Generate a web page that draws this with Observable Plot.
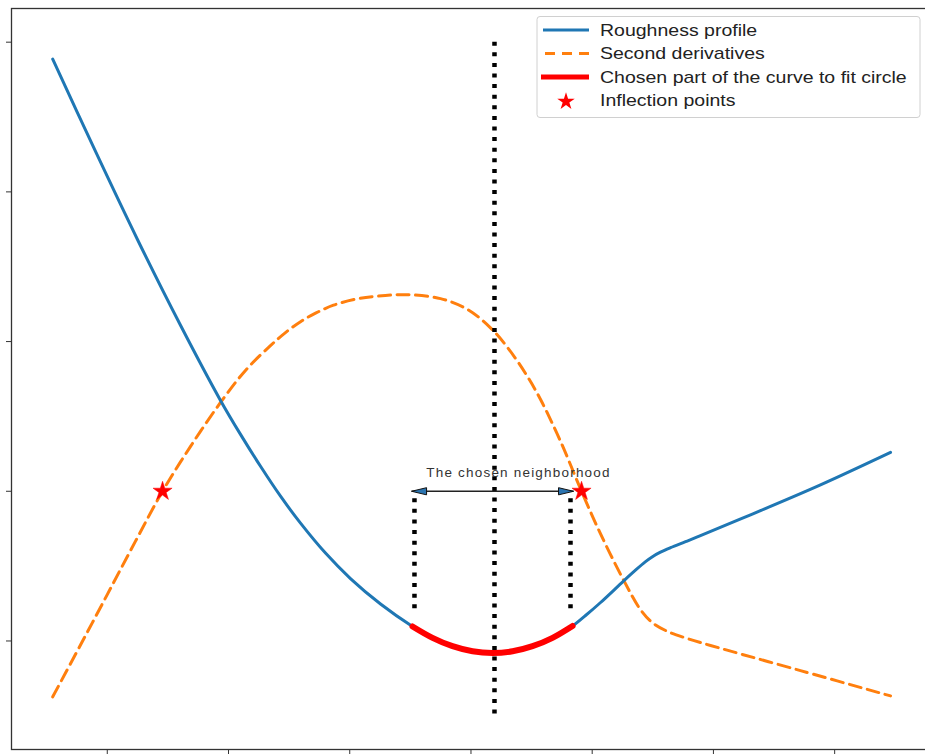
<!DOCTYPE html>
<html>
<head>
<meta charset="utf-8">
<script src="https://cdn.jsdelivr.net/npm/d3@7"></script>
<script src="https://cdn.jsdelivr.net/npm/@observablehq/plot@0.6"></script>
<style>
  html, body { margin: 0; padding: 0; background: #fff; overflow: hidden; }
  #chart svg { max-width: none !important; }
  #chart svg g[aria-label="text"] text { letter-spacing: 1.2px; }
</style>
</head>
<body>
<div id="chart"></div>
<script>
// ---- data (arbitrary units; the axes carry no tick labels) ----
const xTicks = [1, 2, 3, 4, 5, 6, 7];
const yTicks = [0, 1, 2, 3, 4];

// Roughness profile
const roughX = [0.550, 0.903, 1.249, 1.604, 1.934, 2.099, 2.264, 2.429, 2.594, 2.800, 3.006, 3.254, 3.518,
                3.683, 3.848, 4.013, 4.178, 4.343, 4.508, 4.673, 4.838,
                4.945, 5.069, 5.258, 5.357, 5.440, 5.497, 5.563, 5.646, 5.770, 5.893, 6.306, 6.883, 7.461];
const roughY = [3.887, 3.270, 2.682, 2.109, 1.607, 1.380, 1.167, 0.967, 0.787, 0.587, 0.417, 0.247, 0.097,
                0.021, -0.035, -0.069, -0.080, -0.069, -0.035, 0.021, 0.100,
                0.170, 0.257, 0.400, 0.473, 0.530, 0.563, 0.593, 0.623, 0.663, 0.703, 0.843, 1.043, 1.260];

// Second derivatives
const secondX = [0.550, 0.779, 1.002, 1.233, 1.456, 1.687, 1.934, 2.140, 2.346, 2.470, 2.594, 2.718, 2.866,
                 3.048, 3.229, 3.477, 3.749, 3.971, 4.161, 4.301, 4.450, 4.574, 4.739, 4.912,
                 5.069, 5.258, 5.398, 5.497, 5.605, 5.770, 5.976, 6.718, 7.461];
const secondY = [-0.373, -0.027, 0.313, 0.667, 1.000, 1.300, 1.593, 1.807, 1.973, 2.060, 2.133, 2.190, 2.243,
                 2.283, 2.303, 2.313, 2.287, 2.215, 2.092, 1.961, 1.787, 1.613, 1.333, 1.000,
                 0.715, 0.408, 0.210, 0.122, 0.070, 0.020, -0.030, -0.198, -0.367];

// Chosen part of the curve to fit circle
const chosenX = [3.518, 3.683, 3.848, 4.013, 4.178, 4.343, 4.508, 4.673, 4.838];
const chosenY = [0.097, 0.021, -0.035, -0.069, -0.080, -0.069, -0.035, 0.021, 0.100];

// Inflection points
const inflX = [1.456, 4.912];
const inflY = [1.0, 1.0];

// Vertical dotted guides
const centerX = [4.194];
const centerY1 = 4.0, centerY2 = -0.5;
const boundX = [3.534, 4.821];
const boundY1 = 0.95, boundY2 = 0.2;

// Neighborhood arrow & label
const arrowX1 = 3.510, arrowX2 = 4.846, arrowY = 1.0;
const labelText = ["The chosen neighborhood"];
const labelX = 4.392, labelY = 1.127;

// Legend
const legendLabels = ["Roughness profile", "Second derivatives", "Chosen part of the curve to fit circle", "Inflection points"];

// ---- tables ----
const rough = roughX.map((x, i) => ({x, y: roughY[i]}));
const second = secondX.map((x, i) => ({x, y: secondY[i]}));
const chosen = chosenX.map((x, i) => ({x, y: chosenY[i]}));
const infl = inflX.map((x, i) => ({x, y: inflY[i]}));

const leftHead = {draw(ctx) { ctx.moveTo(0, 0); ctx.lineTo(15, -3.6); ctx.lineTo(15, 3.6); ctx.closePath(); }};
const rightHead = {draw(ctx) { ctx.moveTo(0, 0); ctx.lineTo(-15, -3.6); ctx.lineTo(-15, 3.6); ctx.closePath(); }};

const chart = Plot.plot({
  width: 940,
  height: 756,
  marginLeft: 11,
  marginRight: 8,
  marginTop: 8,
  marginBottom: 7,
  style: {background: "#fff", fontFamily: "Liberation Sans, Arial, sans-serif", maxWidth: "none"},
  x: {domain: [0.21, 7.807]},
  y: {domain: [-0.725, 4.225]},
  marks: [
    Plot.axisX({ticks: xTicks, tickFormat: () => "", tickSize: 5, stroke: "#333", label: null}),
    Plot.axisY({ticks: yTicks, tickFormat: () => "", tickSize: 5, stroke: "#333", label: null}),
    Plot.line(second, {x: "x", y: "y", stroke: "#ff7f0e", strokeWidth: 3, strokeDasharray: "12,6.5", curve: "catmull-rom"}),
    Plot.line(rough, {x: "x", y: "y", stroke: "#1f77b4", strokeWidth: 3, curve: "catmull-rom"}),
    Plot.line(chosen, {x: "x", y: "y", stroke: "#ff0000", strokeWidth: 6, curve: "catmull-rom"}),
    Plot.ruleX(centerX, {y1: centerY1, y2: centerY2, stroke: "#000", strokeWidth: 4.5, strokeDasharray: "4,6.6"}),
    Plot.ruleX(boundX, {y1: boundY1, y2: boundY2, stroke: "#000", strokeWidth: 4.5, strokeDasharray: "4,6.6"}),
    Plot.link([0], {x1: () => arrowX1, x2: () => arrowX2, y1: () => arrowY, y2: () => arrowY, stroke: "#222", strokeWidth: 1.3}),
    Plot.dot([arrowX1], {x: d => d, y: () => arrowY, symbol: leftHead, fill: "#2b74b0", stroke: "#111", strokeWidth: 1}),
    Plot.dot([arrowX2], {x: d => d, y: () => arrowY, symbol: rightHead, fill: "#2b74b0", stroke: "#111", strokeWidth: 1}),
    Plot.text(labelText, {x: () => labelX, y: () => labelY, text: d => d, fontSize: 13.5, fill: "#333", textAnchor: "middle"}),
    Plot.dot(infl, {x: "x", y: "y", symbol: "star", fill: "#ff0000", stroke: "#ff0000", strokeWidth: 0.5, r: 6}),
    Plot.frame({stroke: "#333", strokeWidth: 1.3})
  ]
});

document.getElementById("chart").appendChild(chart);

// ---- legend (overlay inside the plot area, upper right) ----
const svg = d3.select(chart);
const lg = svg.append("g").attr("font-family", "Liberation Sans, Arial, sans-serif").attr("text-anchor", "start");
lg.append("rect").attr("x", 537).attr("y", 16.5).attr("width", 383).attr("height", 101).attr("rx", 3)
  .attr("fill", "#fff").attr("fill-opacity", 0.85).attr("stroke", "#d0d0d0").attr("stroke-width", 1);
const rowsY = [30, 53.5, 77, 100.5];
const sym = lg.append("g");
sym.append("line").attr("x1", 543).attr("x2", 589).attr("y1", rowsY[0]).attr("y2", rowsY[0])
  .attr("stroke", "#1f77b4").attr("stroke-width", 3);
sym.append("line").attr("x1", 545).attr("x2", 589).attr("y1", rowsY[1]).attr("y2", rowsY[1])
  .attr("stroke", "#ff7f0e").attr("stroke-width", 3).attr("stroke-dasharray", "10,7");
sym.append("line").attr("x1", 541).attr("x2", 589).attr("y1", rowsY[2]).attr("y2", rowsY[2])
  .attr("stroke", "#ff0000").attr("stroke-width", 5);
sym.append("path").attr("d", d3.symbol(d3.symbolStar, Math.PI * 5.5 * 5.5)())
  .attr("transform", `translate(566,${rowsY[3] + 1})`).attr("fill", "#ff0000");
legendLabels.forEach((t, i) => {
  lg.append("g").attr("transform", `translate(600,${rowsY[i]}) scale(1.22,1)`)
    .append("text").attr("x", 0).attr("y", 0).attr("dy", "0.35em").attr("text-anchor", "start")
    .attr("font-size", 16).attr("fill", "#222").text(t);
});
</script>
</body>
</html>
